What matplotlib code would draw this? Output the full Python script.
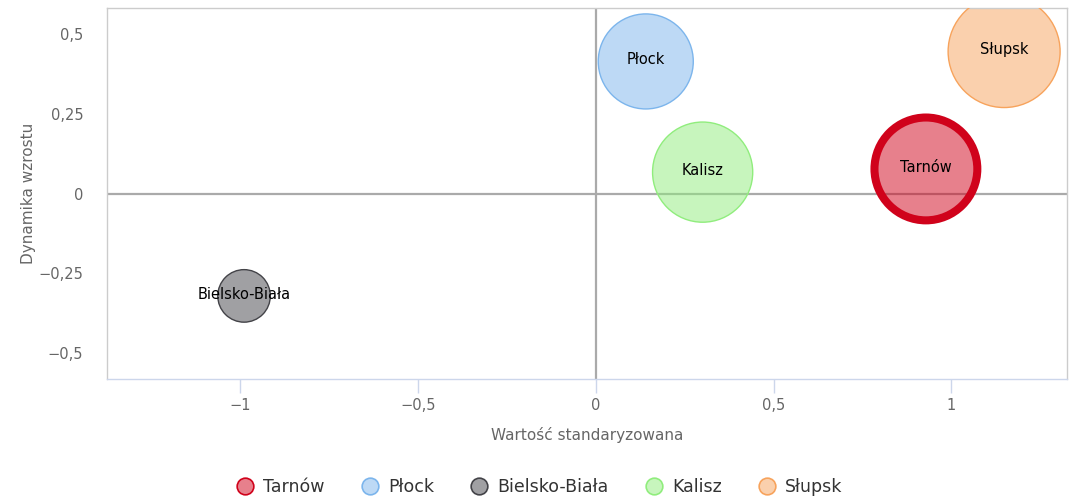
import matplotlib.pyplot as plt
from matplotlib.lines import Line2D
from matplotlib.ticker import FuncFormatter

# Bubble data
cities = ["Tarnów", "Płock", "Bielsko-Biała", "Kalisz", "Słupsk"]
std_value = [0.928, 0.140, -0.990, 0.300, 1.148]   # Wartość standaryzowana
growth = [0.077, 0.414, -0.321, 0.067, 0.445]       # Dynamika wzrostu
bubble_z = [0.91, 0.72, 0.22, 0.80, 1.0]             # relative bubble size

colors = ["#d0021b", "#7cb5ec", "#434348", "#90ed7d", "#f7a35c"]
edge_widths = [5.8, 1.0, 1.0, 1.0, 1.0]

x_ticks = [-1, -0.5, 0, 0.5, 1]
y_ticks = [-0.5, -0.25, 0, 0.25, 0.5]

DPI = 100
MAX_RADIUS_PX = 56


def pl_fmt(v, pos=None):
    s = f"{v:g}".replace(".", ",")
    return s.replace("-", "\u2212")


fig = plt.figure(figsize=(10.77, 4.99), dpi=DPI)
ax = fig.add_axes([107 / 1077, 120 / 499, 960 / 1077, 371 / 499])

ax.set_xlim(-1.3755, 1.3249)
ax.set_ylim(-0.5815, 0.5815)

# zero lines
ax.axhline(0, color="#aaaaaa", lw=1.6, zorder=1)
ax.axvline(0, color="#aaaaaa", lw=1.6, zorder=1)

for name, x, y, z, c, ew in zip(cities, std_value, growth, bubble_z, colors, edge_widths):
    r_px = MAX_RADIUS_PX * z ** 0.5
    if ew > 1:
        r_px -= 2  # thick outline sits on the edge
    d_pt = 2 * r_px * 72 / DPI
    ax.scatter([x], [y], s=d_pt ** 2, facecolor=c, edgecolor="none", alpha=0.5, zorder=2)
    ax.scatter([x], [y], s=d_pt ** 2, facecolor="none", edgecolor=c, linewidths=ew, zorder=3)
    ax.text(x, y + 0.005, name, ha="center", va="center", fontsize=10.5, color="#000000",
            zorder=4)

ax.set_xticks(x_ticks)
ax.set_yticks(y_ticks)
ax.xaxis.set_major_formatter(FuncFormatter(pl_fmt))
ax.yaxis.set_major_formatter(FuncFormatter(pl_fmt))
ax.tick_params(axis="x", colors="#ccd6eb", length=10, width=1, labelcolor="#666666",
               labelsize=10.5, pad=4)
ax.tick_params(axis="y", length=0, labelcolor="#666666", labelsize=10.5, pad=17)

for side in ["top", "left", "right"]:
    ax.spines[side].set_color("#cccccc")
    ax.spines[side].set_linewidth(1)
ax.spines["bottom"].set_color("#ccd6eb")
ax.spines["bottom"].set_linewidth(1)

ax.set_xlabel("Wartość standaryzowana", color="#666666", fontsize=11, labelpad=10)
ax.set_ylabel("Dynamika wzrostu", color="#666666", fontsize=11, labelpad=2)

handles = [
    Line2D([], [], marker="o", linestyle="none", markersize=12,
           markerfacecolor=c + "80", markeredgecolor=c, markeredgewidth=1.2)
    for c in colors
]

fig.legend(handles, cities, loc="center", bbox_to_anchor=(0.5, 12 / 499), ncol=5,
           frameon=False, fontsize=12.5, handletextpad=0.45, columnspacing=2.0,
           labelcolor="#333333", handlelength=1.2)

fig.savefig("out.png", dpi=DPI)
